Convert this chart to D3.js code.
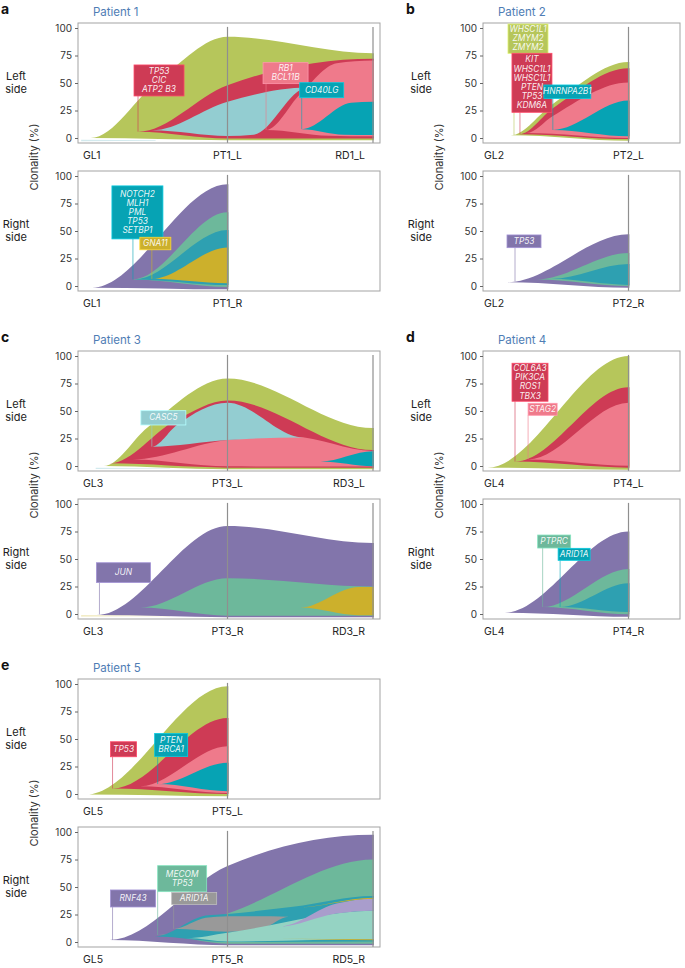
<!DOCTYPE html>
<html>
<head>
<meta charset="utf-8">
<script src="https://cdn.jsdelivr.net/npm/d3@7"></script>
<style>
  body { margin: 0; background: #fff; }
  text { font-family: Inter, "Liberation Sans", Arial, sans-serif; }
</style>
</head>
<body>
<div id="chart"></div>
<script>
// sample names on the x axis of each plot
const samples1L = ["GL1", "PT1_L", "RD1_L"];
const samples1R = ["GL1", "PT1_R"];
const samples2L = ["GL2", "PT2_L"];
const samples2R = ["GL2", "PT2_R"];
const samples3L = ["GL3", "PT3_L", "RD3_L"];
const samples3R = ["GL3", "PT3_R", "RD3_R"];
const samples4L = ["GL4", "PT4_L"];
const samples4R = ["GL4", "PT4_R"];
const samples5L = ["GL5", "PT5_L"];
const samples5R = ["GL5", "PT5_R", "RD5_R"];
const yTicks = [0, 25, 50, 75, 100];

// clones: upper (hi) and lower (lo) edge of each clone, [time, clonality %]
// time 0 = GL, 1 = PT, 2 = RD; parents come before their children
const clones1L = [
  { kind: "pale", hi: [[0, -1.5], [0.5, -1.8]], lo: [[0, -3], [0.5, -2.4]] },
  { kind: "olive", hi: [[0.06, 0], [0.53, 53], [1, 92], [2, 77]], lo: [[0.06, 0], [1, -2], [2, -2]] },
  { kind: "crimson", hi: [[0.385, 5.7], [1, 48], [2, 72]], lo: [[0.385, 5.7], [1, -0.5], [2, -0.5]] },
  { kind: "lightblue", hi: [[0.48, 7], [1, 33], [1.55, 46]], lo: [[0.48, 7], [1, 1.8], [1.18, 3], [1.55, 46]] },
  { kind: "pink", hi: [[1.265, 7.3], [1.5, 40], [1.75, 68], [2, 70.5]], lo: [[1.265, 7.3], [1.7, 2], [2, 1.5]] },
  { kind: "teal", hi: [[1.51, 8], [1.85, 32], [2, 33]], lo: [[1.51, 8], [1.8, 3], [2, 2.8]] }
];
const clones1R = [
  { kind: "purple", hi: [[0.07, -1.5], [1, 92.5]], lo: [[0.07, -1.5], [1, -3]] },
  { kind: "seagreen", hi: [[0.35, 6], [1, 67]], lo: [[0.35, 6], [1, -0.8]] },
  { kind: "tealblue", hi: [[0.36, 6], [1, 51]], lo: [[0.36, 6], [1, 0.8]] },
  { kind: "mustard", hi: [[0.48, 6.5], [1, 35]], lo: [[0.48, 6.5], [1, 2.5]] }
];
const clones2L = [
  { kind: "olive", hi: [[0.19, 2.5], [0.48, 31], [1, 69]], lo: [[0.19, 2.5], [1, -2.5]] },
  { kind: "crimson", hi: [[0.25, 3.5], [0.48, 27], [1, 63.5]], lo: [[0.25, 3.5], [1, -1]] },
  { kind: "pink", hi: [[0.3, 4.5], [0.48, 20], [1, 50.5]], lo: [[0.3, 4.5], [1, 0]] },
  { kind: "teal", hi: [[0.48, 7.3], [1, 34]], lo: [[0.48, 7.3], [1, 1.5]] }
];
const clones2R = [
  { kind: "purple", hi: [[0.17, 3.5], [1, 47]], lo: [[0.17, 3.5], [1, -1.5]] },
  { kind: "seagreen", hi: [[0.37, 6], [1, 30]], lo: [[0.37, 6], [1, 0]] },
  { kind: "tealblue", hi: [[0.47, 6.5], [1, 20]], lo: [[0.47, 6.5], [1, 1]] }
];
const clones3L = [
  { kind: "pale", hi: [[0.1, -1.5], [0.6, -1.8]], lo: [[0.1, -2.8], [0.6, -2.3]] },
  { kind: "olive", hi: [[0.15, 0], [0.45, 35], [1, 79.5], [2, 34.5]], lo: [[0.15, 0], [1, -3], [2, -3]] },
  { kind: "crimson", hi: [[0.19, 2.4], [0.65, 42], [1, 59.5], [2, 14.5]], lo: [[0.19, 2.4], [1, -1.5], [2, -1.5]] },
  { kind: "pink", hi: [[0.35, 6], [1, 23.6], [1.45, 26.5], [2, 13.6]], lo: [[0.35, 6], [1, -0.3], [2, -0.5]] },
  { kind: "lightblue", hi: [[0.48, 17.6], [0.65, 37], [1, 57.6], [1.52, 26]], lo: [[0.48, 17.6], [1, 23.6], [1.52, 26]] },
  { kind: "teal", hi: [[1.64, 4], [2, 13.3]], lo: [[1.64, 4], [2, -0.3]] }
];
const clones3R = [
  { kind: "paleY", hi: [[0, -1.2], [0.6, -1.5]], lo: [[0, -2.2], [0.6, -2]] },
  { kind: "purple", hi: [[0.1, -1], [1, 80], [2, 64.5]], lo: [[0.1, -1], [1, -3], [2, -3]] },
  { kind: "seagreen", hi: [[0.4, 5.8], [1, 32.5], [2, 25]], lo: [[0.4, 5.8], [1, -1.5], [2, -1.5]] },
  { kind: "mustard", hi: [[1.5, 5.8], [1.9, 24.5], [2, 24.5]], lo: [[1.5, 5.8], [1.9, -1.2], [2, -1.2]] }
];
const clones4L = [
  { kind: "olive", hi: [[0.03, -1.5], [1, 100]], lo: [[0.03, -1.5], [1, -3.5]] },
  { kind: "crimson", hi: [[0.22, 4], [1, 71.5]], lo: [[0.22, 4], [1, -1.5]] },
  { kind: "pink", hi: [[0.31, 6], [1, 57.5]], lo: [[0.31, 6], [1, 0.3]] }
];
const clones4R = [
  { kind: "purple", hi: [[0.15, 1.2], [1, 75]], lo: [[0.15, 1.2], [1, -2.5]] },
  { kind: "seagreen", hi: [[0.41, 6.4], [1, 41]], lo: [[0.41, 6.4], [1, -0.3]] },
  { kind: "tealblue", hi: [[0.53, 6.4], [1, 28]], lo: [[0.53, 6.4], [1, 1.8]] }
];
const clones5L = [
  { kind: "olive", hi: [[0.03, -0.5], [1, 98]], lo: [[0.03, -0.5], [1, -2]] },
  { kind: "crimson", hi: [[0.21, 5], [1, 69]], lo: [[0.21, 5], [1, 0]] },
  { kind: "pink", hi: [[0.4, 7], [1, 43.5]], lo: [[0.4, 7], [1, 0.8]] },
  { kind: "teal", hi: [[0.52, 9], [1, 28.5]], lo: [[0.52, 9], [1, 2.5]] }
];
const clones5R = [
  { kind: "purple", hi: [[0.19, 1.8], [1, 69], [2, 97.5]], lo: [[0.19, 1.8], [1, -3], [2, -3]] },
  { kind: "seagreen", hi: [[0.52, 6.4], [1, 26], [2, 75]], lo: [[0.52, 6.4], [1, -1.5], [2, -1.5]] },
  { kind: "tealblue", hi: [[0.5, 5], [0.85, 24], [1, 25.5], [1.45, 32], [2, 41.8]], lo: [[0.5, 5], [1, 0], [2, 0.5]] },
  { kind: "grey", hi: [[0.63, 12], [0.85, 22], [1, 23.5], [1.3, 23.5], [1.42, 23]], lo: [[0.63, 12], [1, 9.4], [1.25, 13], [1.42, 23]] },
  { kind: "mint", hi: [[0.72, 3.6], [1, 8.5], [2, 28.5]], lo: [[0.72, 3.6], [1, 0.5], [2, 2.6]] },
  { kind: "lavender", hi: [[1.35, 14], [1.75, 35], [2, 39.4]], lo: [[1.35, 14], [1.75, 26], [2, 28.5]] },
  { kind: "mustard", hi: [[1.45, 31], [2, 40.2]], lo: [[1.45, 31], [2, 39.4]] },
  { kind: "mustard", hi: [[1.35, 3], [2, 2.4]], lo: [[1.35, 3], [2, 1.7]] }
];

// gene labels: where the clone starts (t, v) and where the box sits (top in %)
const notes1L = [
  { kind: "crimson", lines: ["TP53", "CIC", "ATP2 B3"], t: 0.385, v: 5.7, top: 66.4, dx: -4, w: 50, h: 31 },
  { kind: "pink", lines: ["RB1", "BCL11B"], t: 1.265, v: 7.3, top: 68.5, dx: -3, w: 45, h: 21 },
  { kind: "teal", lines: ["CD40LG"], t: 1.51, v: 8, top: 50.3, dx: -2, w: 44, h: 15 }
];
const notes1R = [
  { kind: "teal", lines: ["NOTCH2", "MLH1", "PML", "TP53", "SETBP1"], t: 0.35, v: 6, top: 91, dx: -21, w: 51, h: 53 },
  { kind: "mustard", lines: ["GNA11"], t: 0.48, v: 6.4, top: 44.3, dx: -12, w: 31, h: 12.5 }
];
const notes2L = [
  { kind: "olive", lines: ["WHSC1L1", "ZMYM2", "ZMYM2"], t: 0.213, v: 2.7, top: 103.6, dx: -6, w: 40, h: 29.3 },
  { kind: "crimson", lines: ["KIT", "WHSC1L1", "WHSC1L1", "PTEN", "TP53", "KDM6A"], t: 0.254, v: 3.5, top: 77, dx: -8, w: 40, h: 59 },
  { kind: "teal", lines: ["HNRNPA2B1"], t: 0.48, v: 7.3, top: 48.2, dx: -9, w: 47, h: 13.5 }
];
const notes2R = [
  { kind: "purple", lines: ["TP53"], t: 0.22, v: 4.3, top: 46.4, dx: -8, w: 34, h: 12.7 }
];
const notes3L = [
  { kind: "lightblue", lines: ["CASC5"], t: 0.48, v: 17.6, top: 50.3, dx: -11, w: 45, h: 14.3 }
];
const notes3R = [
  { kind: "purple", lines: ["JUN"], t: 0.12, v: -0.3, top: 46.6, dx: -3, w: 54, h: 19.7 }
];
const notes4L = [
  { kind: "crimson", lines: ["COL6A3", "PIK3CA", "ROS1", "TBX3"], t: 0.22, v: 4, top: 93.4, dx: -3, w: 36, h: 38 },
  { kind: "pink", lines: ["STAG2"], t: 0.31, v: 6, top: 57, dx: 0, w: 29, h: 12 }
];
const notes4R = [
  { kind: "seagreen", lines: ["PTPRC"], t: 0.41, v: 6.4, top: 71.8, dx: -5, w: 33, h: 13 },
  { kind: "teal", lines: ["ARID1A"], t: 0.53, v: 6.4, top: 59.7, dx: -2, w: 32, h: 12 }
];
const notes5L = [
  { kind: "crimson", lines: ["TP53"], t: 0.21, v: 5, top: 47.5, dx: -2, w: 26, h: 15 },
  { kind: "teal", lines: ["PTEN", "BRCA1"], t: 0.52, v: 9, top: 55, dx: -3, w: 33, h: 23 }
];
const notes5R = [
  { kind: "purple", lines: ["RNF43"], t: 0.21, v: 1.8, top: 47.3, dx: -2, w: 45, h: 17 },
  { kind: "seagreen", lines: ["MECOM", "TP53"], t: 0.52, v: 6.4, top: 69.4, dx: 0, w: 49, h: 26 },
  { kind: "grey", lines: ["ARID1A"], t: 0.63, v: 12, top: 45, dx: -2, w: 45, h: 12 }
];

const kinds = ["olive", "crimson", "pink", "lightblue", "teal", "purple", "seagreen", "tealblue",
  "mustard", "grey", "lavender", "mint", "pale", "paleY"];
const colour = d3.scaleOrdinal()
  .domain(kinds)
  .range(["#b6c65b", "#ce3b55", "#ef7a8b", "#93cdd1", "#06a3b4", "#8275ab", "#6db89b", "#2ea0b1",
    "#ccb02c", "#999999", "#a99dcc", "#95d3c3", "#d3eaee", "#eee6b4"]);

// ---- layout ----
const W = 685, H = 968;
const colLeft = [78, 483], colWidth = [302, 197], glOffset = [4, 0];
const rowTop = [23, 351, 679];
const boxH = 120, lowerGap = 148, step = 145.5;

const panels = [
  { letter: "a", patient: "Patient 1", col: 0, row: 0 },
  { letter: "b", patient: "Patient 2", col: 1, row: 0 },
  { letter: "c", patient: "Patient 3", col: 0, row: 1 },
  { letter: "d", patient: "Patient 4", col: 1, row: 1 },
  { letter: "e", patient: "Patient 5", col: 0, row: 2 }
];

const subplots = [
  { col: 0, row: 0, lower: false, side: "Left", samples: samples1L, clones: clones1L, notes: notes1L },
  { col: 0, row: 0, lower: true, side: "Right", samples: samples1R, clones: clones1R, notes: notes1R },
  { col: 1, row: 0, lower: false, side: "Left", samples: samples2L, clones: clones2L, notes: notes2L },
  { col: 1, row: 0, lower: true, side: "Right", samples: samples2R, clones: clones2R, notes: notes2R },
  { col: 0, row: 1, lower: false, side: "Left", samples: samples3L, clones: clones3L, notes: notes3L },
  { col: 0, row: 1, lower: true, side: "Right", samples: samples3R, clones: clones3R, notes: notes3R },
  { col: 1, row: 1, lower: false, side: "Left", samples: samples4L, clones: clones4L, notes: notes4L },
  { col: 1, row: 1, lower: true, side: "Right", samples: samples4R, clones: clones4R, notes: notes4R },
  { col: 0, row: 2, lower: false, side: "Left", samples: samples5L, clones: clones5L, notes: notes5L },
  { col: 0, row: 2, lower: true, side: "Right", samples: samples5R, clones: clones5R, notes: notes5R }
];

// flat lead-in / lead-out so the monotone curve leaves and reaches the ends horizontally
function padEnds(pts) {
  const a = pts[0], b = pts[pts.length - 1];
  return [[a[0] - 0.006, a[1]], ...pts, [b[0] + 0.006, b[1]]];
}

const svg = d3.select("#chart").append("svg")
  .attr("width", W)
  .attr("height", H);

panels.forEach(p => {
  const left = colLeft[p.col], top = rowTop[p.row];
  svg.append("text")
    .attr("x", left - 77)
    .attr("y", top - 9)
    .attr("font-family", '"Liberation Sans", Arial, sans-serif')
    .attr("font-weight", 700)
    .attr("font-size", 14)
    .attr("fill", "#111")
    .text(p.letter);
  svg.append("text")
    .attr("x", left + 15)
    .attr("y", top - 7)
    .attr("font-size", 11.5)
    .attr("fill", "#4f7db5")
    .text(p.patient);
  svg.append("text")
    .attr("transform", `translate(${left - 44},${top + 134}) rotate(-90)`)
    .attr("text-anchor", "middle")
    .attr("dominant-baseline", "central")
    .attr("font-size", 11)
    .attr("fill", "#333")
    .text("Clonality (%)");
});

subplots.forEach((s, i) => {
  const left = colLeft[s.col], width = colWidth[s.col];
  const top = rowTop[s.row] + (s.lower ? lowerGap : 0);
  const x0 = left + glOffset[s.col];

  const x = d3.scaleLinear().domain([0, 2]).range([x0, x0 + 2 * step]);
  const y = d3.scaleLinear().domain([0, 100]).range([top + 115, top + 5]);

  const g = svg.append("g");
  const clipId = "clip" + i;
  svg.append("clipPath").attr("id", clipId)
    .append("rect")
    .attr("x", left).attr("y", top)
    .attr("width", width).attr("height", boxH);

  const line = d3.line()
    .x(d => x(d[0]))
    .y(d => y(d[1]))
    .curve(d3.curveMonotoneX);

  g.append("g")
    .attr("clip-path", `url(#${clipId})`)
    .selectAll("path")
    .data(s.clones)
    .join("path")
    .attr("d", c => line(padEnds(c.hi)) + line(padEnds(c.lo).reverse()).replace(/^M/, "L") + "Z")
    .attr("fill", c => colour(c.kind));

  // sample time lines
  g.selectAll("line.sample")
    .data(s.samples.slice(1))
    .join("line")
    .attr("class", "sample")
    .attr("x1", (d, k) => x(k + 1))
    .attr("x2", (d, k) => x(k + 1))
    .attr("y1", y(101))
    .attr("y2", top + boxH)
    .attr("stroke", "#8f8f8f")
    .attr("stroke-width", 1.2);

  g.append("rect")
    .attr("x", left).attr("y", top)
    .attr("width", width).attr("height", boxH)
    .attr("fill", "none")
    .attr("stroke", "#a3a3a3");

  const axis = g.append("g")
    .attr("transform", `translate(${left},0)`)
    .call(d3.axisLeft(y).tickValues(yTicks).tickSize(3).tickPadding(3));
  axis.select(".domain").remove();
  axis.selectAll("line").attr("stroke", "#666");
  axis.selectAll("text")
    .attr("font-family", "Inter, 'Liberation Sans', sans-serif")
    .attr("font-size", 10)
    .attr("fill", "#333");

  const anchors = ["start", "middle", "end"], nudge = [1, 0, -8];
  g.selectAll("text.sample")
    .data(s.samples)
    .join("text")
    .attr("class", "sample")
    .attr("x", (d, k) => x(k) + nudge[k])
    .attr("y", top + boxH + 16)
    .attr("text-anchor", (d, k) => anchors[k])
    .attr("font-size", 10.5)
    .attr("fill", "#222")
    .text(d => d);

  const side = g.append("text")
    .attr("text-anchor", "middle")
    .attr("font-size", 11)
    .attr("fill", "#222");
  side.append("tspan").attr("x", left - 62).attr("y", top + 57).text(s.side);
  side.append("tspan").attr("x", left - 62).attr("y", top + 70).text("side");

  // gene labels
  s.notes.forEach(n => {
    const lx = x(n.t), bx = lx + n.dx, by = y(n.top);
    const c = colour(n.kind);
    g.append("line")
      .attr("x1", lx).attr("x2", lx)
      .attr("y1", y(n.v)).attr("y2", by + n.h)
      .attr("stroke", c)
      .attr("stroke-opacity", 0.6)
      .attr("stroke-width", 1);
    g.append("rect")
      .attr("x", bx).attr("y", by)
      .attr("width", n.w).attr("height", n.h)
      .attr("fill", c)
      .attr("stroke", d3.color(c).brighter(0.6))
      .attr("stroke-width", 0.8);
    const lh = 9.2;
    const t = g.append("text")
      .attr("text-anchor", "middle")
      .attr("font-size", 8.4)
      .attr("font-style", "italic")
      .attr("fill", "#fff")
      .attr("fill-opacity", 0.92);
    n.lines.forEach((txt, k) => {
      t.append("tspan")
        .attr("x", bx + n.w / 2)
        .attr("y", by + (n.h - n.lines.length * lh) / 2 + 7.2 + k * lh)
        .text(txt);
    });
  });
});
</script>
</body>
</html>
